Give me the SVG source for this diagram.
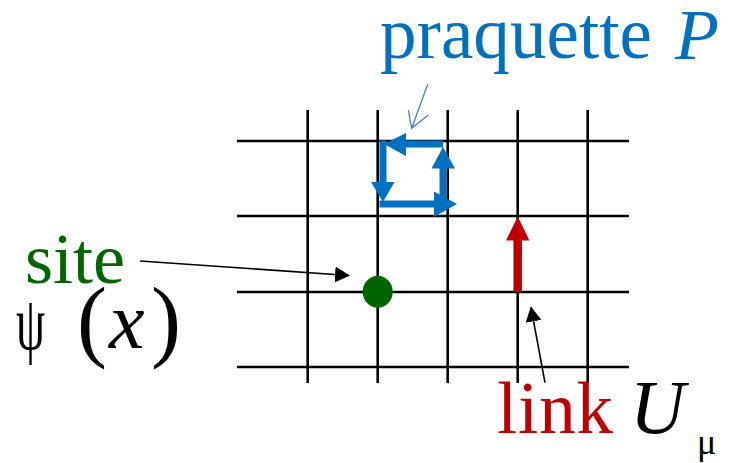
<svg xmlns="http://www.w3.org/2000/svg" width="735" height="463" viewBox="0 0 735 463">
<style>
  .grid line { stroke: #000; stroke-width: 2.6; }
  .blue { fill: #0070C0; }
  .bshaft { stroke: #0070C0; stroke-width: 7; }
  .ptr { stroke: #000; stroke-width: 1.6; fill: none; }
</style>
<defs>
  <marker id="ah" viewBox="0 0 15 16" refX="14" refY="8" markerWidth="15" markerHeight="16" markerUnits="userSpaceOnUse" orient="auto">
    <polygon points="0,0 15,8 0,16" fill="#000"/>
  </marker>
</defs>
<rect width="735" height="463" fill="#fff"/>
<g id="lattice" class="grid">
  <line x1="307.7" y1="110" x2="307.7" y2="383"/>
  <line x1="377.7" y1="110" x2="377.7" y2="383"/>
  <line x1="447.7" y1="110" x2="447.7" y2="383"/>
  <line x1="517.7" y1="110" x2="517.7" y2="383"/>
  <line x1="587.7" y1="110" x2="587.7" y2="383"/>
  <line x1="237" y1="141" x2="629" y2="141"/>
  <line x1="237" y1="216" x2="629" y2="216"/>
  <line x1="237" y1="292" x2="629" y2="292"/>
  <line x1="237" y1="367" x2="629" y2="367"/>
</g>
<g id="plaquette">
  <line class="bshaft" x1="443" y1="144" x2="404" y2="144"/>
  <polygon class="blue" points="406,133 406,156 384,144"/>
  <line class="bshaft" x1="383" y1="140.5" x2="383" y2="183"/>
  <polygon class="blue" points="371,182 394.5,182 383,202"/>
  <line class="bshaft" x1="379.5" y1="204" x2="435" y2="204"/>
  <polygon class="blue" points="434,191.5 434,217 457,204"/>
  <line class="bshaft" x1="443" y1="208" x2="443" y2="167"/>
  <polygon class="blue" points="431.5,168.5 455,168.5 443,147"/>
</g>
<g id="link-arrow">
  <line x1="517.7" y1="292" x2="517.7" y2="239" stroke="#C00000" stroke-width="8.5"/>
  <polygon points="506,240.5 529.5,240.5 517.7,216.5" fill="#C00000"/>
</g>
<g id="site-dot">
  <ellipse cx="377.7" cy="291.7" rx="15" ry="16" fill="#006600"/>
</g>
<g id="label-praquette" font-family="'Liberation Serif', 'Times New Roman', serif">
  <text x="380" y="58" font-size="73" fill="#0070C0" textLength="272">praquette</text>
  <text x="675" y="59" font-size="72" font-style="italic" fill="#0070C0">P</text>
</g>
<g id="label-site" font-family="'Liberation Serif', 'Times New Roman', serif">
  <text x="25" y="283" font-size="72" fill="#006600">site</text>
</g>
<g id="label-psi" font-family="'Liberation Serif', 'Times New Roman', serif">
  <text x="16" y="349" font-size="76" textLength="29" lengthAdjust="spacingAndGlyphs">ψ</text>
  <text x="77" y="350" font-size="90">(</text>
  <text x="109" y="348" font-size="80" font-style="italic">x</text>
  <text x="151" y="350" font-size="90">)</text>
</g>
<g id="label-link" font-family="'Liberation Serif', 'Times New Roman', serif">
  <text x="497" y="433" font-size="73" fill="#C00000" textLength="116">link</text>
  <text x="630" y="433" font-size="76" font-style="italic">U</text>
  <text x="697" y="454" font-size="36">μ</text>
</g>
<g id="connectors">
  <line class="ptr" x1="140" y1="261" x2="349" y2="275.5" marker-end="url(#ah)"/>
  <line class="ptr" x1="545" y1="382.7" x2="531" y2="307.5" marker-end="url(#ah)"/>
  <path d="M427.7,84.3 L411.7,128.3 M408.3,110 L411.7,128.3 L428.3,115" fill="none" stroke="#4A7EBB" stroke-width="1.3"/>
</g>
</svg>
